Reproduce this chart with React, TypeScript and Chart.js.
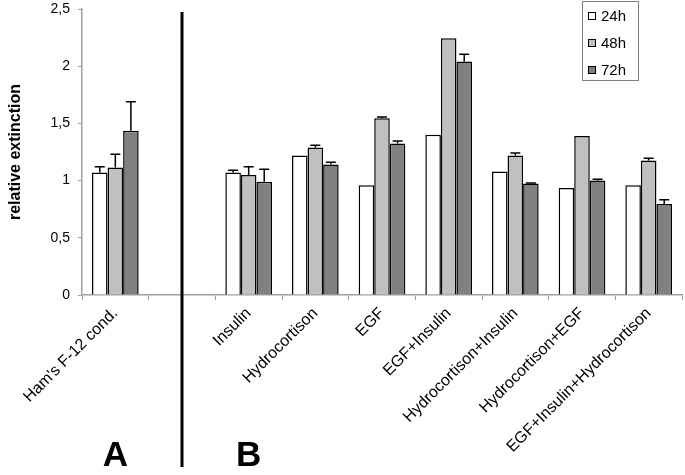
import React, { useEffect, useRef } from "react";
import { Chart, registerables } from "chart.js";

Chart.register(...registerables);

const categories = [
  "Ham's F-12 cond.",
  "",
  "Insulin",
  "Hydrocortison",
  "EGF",
  "EGF+Insulin",
  "Hydrocortison+Insulin",
  "Hydrocortison+EGF",
  "EGF+Insulin+Hydrocortison",
];
const seriesLabels = ["24h", "48h", "72h"];
const values24 = [1.07, null, 1.07, 1.22, 0.96, 1.4, 1.08, 0.935, 0.96];
const values48 = [1.115, null, 1.05, 1.29, 1.545, 2.245, 1.22, 1.39, 1.175];
const values72 = [1.435, null, 0.99, 1.14, 1.325, 2.04, 0.975, 1.0, 0.795];
const err24 = [0.05, 0, 0.02, 0, 0, 0, 0, 0, 0];
const err48 = [0.115, 0, 0.07, 0.02, 0.01, 0, 0.022, 0, 0.02];
const err72 = [0.255, 0, 0.11, 0.02, 0.022, 0.065, 0.005, 0.011, 0.038];
const yTicks = [0, 0.5, 1, 1.5, 2, 2.5];
const groupLetters = [
  { index: 0, text: "A" },
  { index: 2, text: "B" },
];
const separatorIndex = 1;

const colors = ["#ffffff", "#c0c0c0", "#808080"];

export default function App() {
  const ref = useRef<HTMLCanvasElement | null>(null);

  useEffect(() => {
    if (!ref.current) return;
    const errors = [err24, err48, err72];

    const extras = {
      id: "extras",
      afterDatasetsDraw(chart: any) {
        const ctx = chart.ctx;
        const y = chart.scales.y;
        ctx.save();
        ctx.strokeStyle = "#000";
        ctx.lineWidth = 1.5;
        chart.data.datasets.forEach((ds: any, di: number) => {
          const meta = chart.getDatasetMeta(di);
          meta.data.forEach((bar: any, i: number) => {
            const v = ds.data[i];
            const e = errors[di][i];
            if (v == null || !e) return;
            const top = y.getPixelForValue(v + e);
            const base = y.getPixelForValue(v);
            ctx.beginPath();
            ctx.moveTo(bar.x, base);
            ctx.lineTo(bar.x, top);
            ctx.moveTo(bar.x - 5, top);
            ctx.lineTo(bar.x + 5, top);
            ctx.stroke();
          });
        });
        ctx.restore();
      },
      afterDraw(chart: any) {
        const ctx = chart.ctx;
        const x = chart.scales.x;
        ctx.save();
        const sx = x.getPixelForValue(separatorIndex);
        ctx.strokeStyle = "#000";
        ctx.lineWidth = 3;
        ctx.beginPath();
        ctx.moveTo(sx, 12);
        ctx.lineTo(sx, 467);
        ctx.stroke();
        ctx.fillStyle = "#000";
        ctx.font = "bold 35px 'Liberation Sans', Arial, sans-serif";
        ctx.textAlign = "center";
        ctx.textBaseline = "alphabetic";
        groupLetters.forEach((g) => {
          ctx.fillText(g.text, x.getPixelForValue(g.index), 466);
        });
        const lx = 582, ly = 1, lw = 56, lh = 79;
        ctx.fillStyle = "#fff";
        ctx.fillRect(lx, ly, lw, lh);
        ctx.strokeStyle = "#808080";
        ctx.lineWidth = 1;
        ctx.strokeRect(lx + 0.5, ly + 0.5, lw, lh);
        ctx.font = "15px 'Liberation Sans', Arial, sans-serif";
        ctx.textAlign = "left";
        ctx.textBaseline = "middle";
        const ys = [16, 43, 70];
        seriesLabels.forEach((lab, i) => {
          ctx.fillStyle = colors[i];
          ctx.fillRect(588, ys[i] - 4, 8, 8);
          ctx.strokeStyle = "#000";
          ctx.lineWidth = 1;
          ctx.strokeRect(588.5, ys[i] - 3.5, 7, 7);
          ctx.fillStyle = "#000";
          ctx.fillText(lab, 601, ys[i] + 1);
        });
        ctx.restore();
      },
    };

    const chart = new Chart(ref.current, {
      type: "bar",
      data: {
        labels: categories,
        datasets: [values24, values48, values72].map((d, i) => ({
          label: seriesLabels[i],
          data: d,
          backgroundColor: colors[i],
          borderColor: "#000",
          borderWidth: 1.5,
          borderSkipped: "bottom",
          barPercentage: 1,
          categoryPercentage: 0.7,
        })),
      },
      options: {
        responsive: false,
        animation: false,
        layout: { padding: { top: 9, right: 3, left: 0, bottom: 0 } },
        plugins: {
          legend: { display: false },
          tooltip: { enabled: false },
        },
        scales: {
          x: {
            offset: true,
            grid: {
              offset: true,
              drawOnChartArea: false,
              drawTicks: true,
              tickLength: 5,
              color: "#a0a0a0",
            },
            border: { color: "#a0a0a0", width: 1.5 },
            ticks: {
              autoSkip: false,
              maxRotation: 45,
              minRotation: 45,
              padding: 4,
              color: "#000",
              font: { family: "'Liberation Sans', Arial, sans-serif", size: 16 },
            },
            afterFit(scale: any) {
              scale.height = 180;
              scale.paddingTop = 0;
              scale.paddingBottom = 0;
            },
          },
          y: {
            min: 0,
            max: 2.5,
            afterBuildTicks(scale: any) {
              scale.ticks = yTicks.map((v) => ({ value: v }));
            },
            grid: {
              drawOnChartArea: false,
              drawTicks: true,
              tickLength: 4,
              color: "#a0a0a0",
            },
            border: { color: "#a0a0a0", width: 1.5 },
            ticks: {
              padding: 8,
              color: "#000",
              font: { family: "'Liberation Sans', Arial, sans-serif", size: 14 },
              callback: (v: any) => String(v).replace(".", ","),
            },
            title: {
              display: true,
              text: "relative extinction",
              color: "#000",
              padding: { top: 6, bottom: 4 },
              font: { family: "'Liberation Sans', Arial, sans-serif", size: 16, weight: "bold" },
            },
            afterFit(scale: any) {
              scale.width = 82;
              scale.paddingTop = 0;
              scale.paddingBottom = 0;
            },
          },
        },
      },
      plugins: [extras],
    });
    return () => chart.destroy();
  }, []);

  return (
    <div style={{ position: "absolute", left: 0, top: 0, width: 685, height: 475, background: "#fff" }}>
      <canvas ref={ref} width={685} height={475} />
    </div>
  );
}
